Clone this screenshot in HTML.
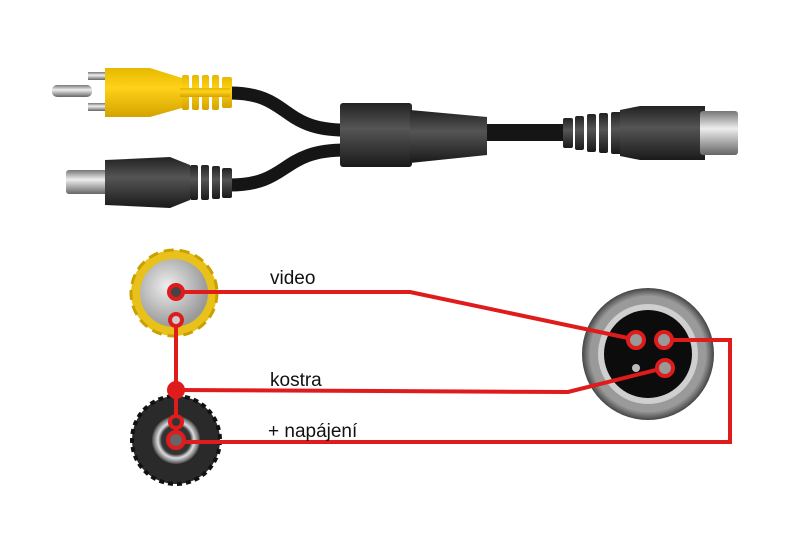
<!DOCTYPE html>
<html><head><meta charset="utf-8"><style>
html,body{margin:0;padding:0;background:#fff;}
svg{display:block}
text{font-family:"Liberation Sans",sans-serif;font-size:19px;fill:#111}
</style></head><body>
<svg width="800" height="534" viewBox="0 0 800 534" xmlns="http://www.w3.org/2000/svg">
<defs>
<linearGradient id="met" x1="0" y1="0" x2="0" y2="1"><stop offset="0" stop-color="#777"/><stop offset=".4" stop-color="#eee"/><stop offset="1" stop-color="#666"/></linearGradient>
<linearGradient id="blk" x1="0" y1="0" x2="0" y2="1"><stop offset="0" stop-color="#222"/><stop offset=".4" stop-color="#555"/><stop offset="1" stop-color="#1a1a1a"/></linearGradient>
<linearGradient id="yel" x1="0" y1="0" x2="0" y2="1"><stop offset="0" stop-color="#e6b800"/><stop offset=".4" stop-color="#ffd21a"/><stop offset="1" stop-color="#d4a300"/></linearGradient>
<radialGradient id="ring" cx=".5" cy=".5" r=".5"><stop offset=".6" stop-color="#333"/><stop offset=".75" stop-color="#ddd"/><stop offset=".9" stop-color="#888"/><stop offset="1" stop-color="#444"/></radialGradient>
<radialGradient id="disc" cx=".4" cy=".4" r=".6"><stop offset="0" stop-color="#eee"/><stop offset="1" stop-color="#999"/></radialGradient>
</defs>
<path d="M230 93 C290 93 280 130 345 130" stroke="#151515" stroke-width="13" fill="none"/>
<path d="M230 185 C290 185 280 150 345 150" stroke="#151515" stroke-width="13" fill="none"/>
<rect x="485" y="124" width="82" height="17" fill="#151515"/>
<rect x="52" y="85" width="40" height="12" rx="5" fill="url(#met)"/>
<rect x="88" y="72" width="22" height="8" fill="url(#met)"/>
<rect x="88" y="103" width="22" height="8" fill="url(#met)"/>
<path d="M105 68 L150 68 L182 78 L182 108 L150 117 L105 117 Z" fill="url(#yel)"/>
<g fill="url(#yel)">
<rect x="182" y="75" width="7" height="35" rx="2"/><rect x="192" y="75" width="7" height="35" rx="2"/><rect x="202" y="75" width="7" height="35" rx="2"/><rect x="212" y="75" width="7" height="35" rx="2"/><rect x="222" y="77" width="10" height="31" rx="2"/>
<rect x="180" y="88" width="50" height="9"/></g>
<rect x="66" y="170" width="44" height="24" rx="3" fill="url(#met)"/>
<path d="M105 160 L170 157 L190 165 L190 200 L170 208 L105 205 Z" fill="url(#blk)"/>
<g fill="url(#blk)"><rect x="190" y="165" width="8" height="35" rx="2"/><rect x="201" y="165" width="8" height="35" rx="2"/><rect x="212" y="166" width="8" height="33" rx="2"/><rect x="222" y="168" width="10" height="30" rx="2"/></g>
<rect x="340" y="103" width="72" height="64" rx="3" fill="url(#blk)"/>
<path d="M410 110 L487 117 L487 155 L410 163 Z" fill="url(#blk)"/>
<g fill="url(#blk)"><rect x="563" y="118" width="10" height="30" rx="2"/><rect x="575" y="116" width="9" height="34" rx="2"/><rect x="587" y="114" width="9" height="38" rx="2"/><rect x="599" y="113" width="9" height="40" rx="2"/><rect x="611" y="112" width="14" height="42" rx="2"/></g>
<path d="M620 110 L640 106 L705 106 L705 160 L640 160 L620 156 Z" fill="url(#blk)"/>
<rect x="700" y="111" width="38" height="44" rx="3" fill="url(#met)"/>
<circle cx="174" cy="293" r="43" fill="#e8c21a"/>
<circle cx="174" cy="293" r="43" fill="none" stroke="#c9a000" stroke-width="3" stroke-dasharray="10 6"/>
<circle cx="174" cy="293" r="34" fill="url(#disc)"/>
<circle cx="176" cy="440" r="44" fill="#2a2a2a"/>
<circle cx="176" cy="440" r="44" fill="none" stroke="#111" stroke-width="4" stroke-dasharray="5 4"/>
<circle cx="176" cy="440" r="24" fill="url(#ring)"/>
<circle cx="648" cy="354" r="66" fill="url(#ring)"/>
<circle cx="648" cy="354" r="58" fill="#9a9a9a"/>
<circle cx="648" cy="354" r="50" fill="#cfcfcf"/>
<circle cx="648" cy="354" r="44" fill="#0c0c0c"/>
<circle cx="636" cy="368" r="4" fill="#bbb"/>
<g stroke="#e01b1b" stroke-width="4" fill="none" stroke-linejoin="miter">
<polyline points="183,292 410,292 628,338"/>
<line x1="176" y1="326" x2="176" y2="416"/>
<polyline points="176,390 568,392 660,369"/>
<polyline points="184,442 730,442 730,340 672,340"/>
</g>
<circle cx="176" cy="390" r="9" fill="#e01b1b"/>
<g stroke="#e01b1b" stroke-width="4" fill="#444">
<circle cx="176" cy="292" r="7"/>
<circle cx="176" cy="320" r="6" fill="#ccc"/>
<circle cx="176" cy="422" r="6" fill="#333"/>
<circle cx="176" cy="440" r="8" fill="#666"/>
<circle cx="636" cy="340" r="8" fill="#999"/>
<circle cx="664" cy="340" r="8" fill="#999"/>
<circle cx="665" cy="368" r="8" fill="#999"/>
</g>
<text x="270" y="284">video</text>
<text x="270" y="386">kostra</text>
<text x="268" y="437">+ napájení</text>
</svg>
</body></html>
